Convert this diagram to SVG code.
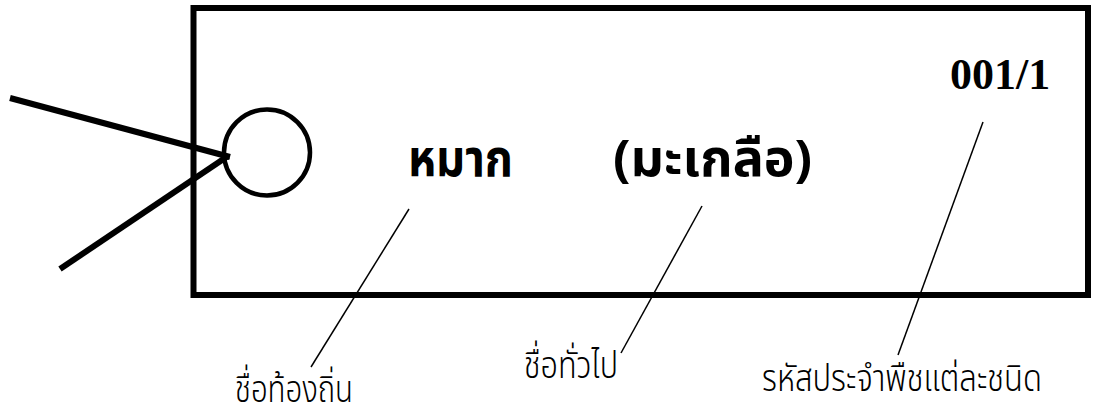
<svg xmlns="http://www.w3.org/2000/svg" width="1093" height="409" viewBox="0 0 1093 409">
<style>
.thick{stroke:#000;stroke-width:6;fill:none}
.lead{stroke:#000;stroke-width:1.5;fill:none}
.big{font-family:"Noto Sans Thai","Noto Sans","DejaVu Sans",sans-serif;font-weight:bold;font-size:51px;fill:#000}
.lab{font-family:"Noto Sans Thai","Noto Sans","DejaVu Sans",sans-serif;font-weight:300;font-size:38px;fill:#000}
.code{font-family:"Liberation Serif",serif;font-weight:bold;font-size:44px;fill:#000}
</style>
<rect width="1093" height="409" fill="#fff"/>
<g id="tag">
<rect class="thick" x="193.5" y="8" width="894.5" height="287"/>
</g>
<g id="hole">
<circle cx="267" cy="152.5" r="43" stroke="#000" stroke-width="4.5" fill="none"/>
</g>
<g id="string">
<line class="thick" x1="10" y1="98" x2="230" y2="157"/>
<line class="thick" x1="60" y1="269" x2="228" y2="156"/>
</g>
<g id="local-name"><text class="big" x="408" y="176" textLength="105" lengthAdjust="spacingAndGlyphs">หมาก</text></g>
<g id="common-name"><text class="big" x="613" y="176" textLength="199" lengthAdjust="spacingAndGlyphs">(มะเกลือ)</text></g>
<g id="code"><text class="code" x="950" y="89">001/1</text></g>
<g id="connectors">
<line class="lead" x1="409" y1="209" x2="311" y2="367"/>
<line class="lead" x1="702" y1="206" x2="621" y2="353"/>
<line class="lead" x1="983" y1="122" x2="898" y2="355"/>
</g>
<g id="label-local"><text class="lab" x="235" y="402" textLength="118" lengthAdjust="spacingAndGlyphs">ชื่อท้องถิ่น</text></g>
<g id="label-common"><text class="lab" x="524" y="378" textLength="94" lengthAdjust="spacingAndGlyphs">ชื่อทั่วไป</text></g>
<g id="label-code"><text class="lab" x="762" y="391" textLength="280" lengthAdjust="spacingAndGlyphs">รหัสประจำพืชแต่ละชนิด</text></g>
</svg>
